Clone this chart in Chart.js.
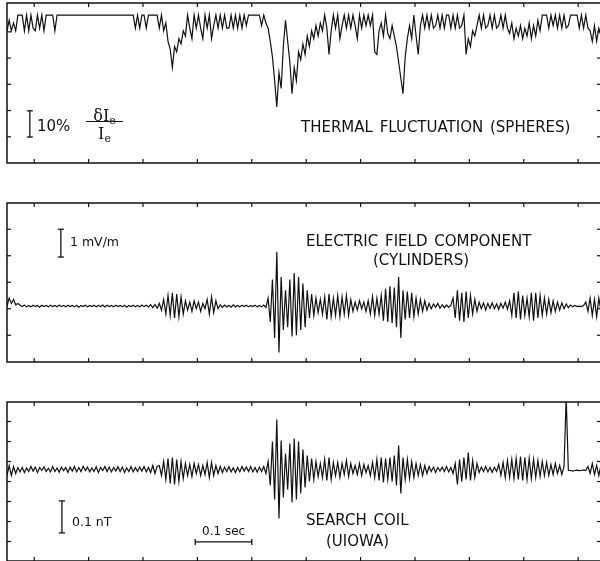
<!DOCTYPE html>
<html>
<head>
<meta charset="utf-8">
<script src="https://cdn.jsdelivr.net/npm/chart.js@4/dist/chart.umd.min.js"></script>
<style>
  html,body{margin:0;padding:0;background:#fff;overflow:hidden;}
  #wrap{position:relative;width:600px;height:561px;overflow:hidden;}
  canvas{position:absolute;left:0;}
  .t{position:absolute;font-family:"DejaVu Sans",sans-serif;color:#111;line-height:1;white-space:nowrap;}
  .big{font-size:15px;word-spacing:2px;}
  .sm{font-size:12.5px;}
  sub{font-size:11px;vertical-align:-3px;line-height:0;}
</style>
</head>
<body>
<div id="wrap">
  <canvas id="c1" width="604" height="180" style="top:0px"></canvas>
  <canvas id="c2" width="604" height="190" style="top:183px"></canvas>
  <canvas id="c3" width="604" height="182" style="top:383px"></canvas>

  <div class="t big" style="left:301px;top:120px">THERMAL FLUCTUATION (SPHERES)</div>
  <div class="t" style="left:37px;top:119px;font-size:15px">10%</div>
  <div class="t" style="left:86px;top:108px;width:37px;text-align:center;font-family:'DejaVu Serif',serif;font-size:16px">δI<sub>e</sub></div>
  <div style="position:absolute;left:86px;top:121px;width:37px;height:0;border-top:1.3px solid #111"></div>
  <div class="t" style="left:86px;top:126px;width:37px;text-align:center;font-family:'DejaVu Serif',serif;font-size:16px">I<sub>e</sub></div>

  <div class="t big" style="left:306px;top:234px">ELECTRIC FIELD COMPONENT</div>
  <div class="t big" style="left:373px;top:253px">(CYLINDERS)</div>
  <div class="t sm" style="left:70px;top:236px">1 mV/m</div>

  <div class="t big" style="left:306px;top:513px">SEARCH COIL</div>
  <div class="t big" style="left:326px;top:534px">(UIOWA)</div>
  <div class="t sm" style="left:72px;top:516px">0.1 nT</div>
  <div class="t" style="left:202px;top:525px;font-size:12px">0.1 sec</div>
</div>
<script>
// ---- time base (seconds) ----
const T_START = 0;
const T_STEP = 0.004;
const X_MIN = 0, X_MAX = 1.092;
const X_TICKS = [0.05,0.15,0.25,0.35,0.45,0.55,0.65,0.75,0.85,0.95,1.05];

// ---- Thermal fluctuation dI/I (%) ----
const THERMAL = [
 -6,-2,-6,-3,-6,0,0,0,-6,0,
 -6,0,-5,-6,0,-5,0,-6,0,0,
 0,0,-6,0,0,0,0,0,0,0,
 0,0,0,0,0,0,0,0,0,0,
 0,0,0,0,0,0,0,0,0,0,
 0,0,0,0,0,0,0,0,0,-5,
 0,-5,0,0,-5,0,0,0,0,0,
 -5,0,-6,-3,-10,-13,-20,-12,-14,-9,
 -11,-6,-8,0,-5,-9,0,-5,0,-5,
 -9,0,-5,0,-9,-4,0,-5,0,-5,
 0,-5,-5,0,-5,0,-5,0,-5,0,
 -4,0,0,0,0,0,0,-4,0,-3,
 -5,-10,-16,-25,-35,-22,-28,-12,-2,-10,
 -18,-30,-20,-25,-14,-17,-11,-15,-8,-12,
 -6,-9,-4,-8,-3,-6,0,-5,-15,-6,
 0,-5,0,-9,-4,0,-5,0,-5,0,
 -4,-9,0,-5,0,-4,0,-4,0,-14,
 -15,-6,-3,-8,0,-7,-9,-4,-8,-12,
 -18,-24,-30,-16,-9,-4,-9,0,-8,-15,
 -4,0,-5,0,-5,0,-5,-4,0,-5,
 0,-5,0,0,-5,0,-5,0,-5,-4,
 0,-15,-9,-12,-6,-8,-4,0,-5,0,
 -5,-4,0,-5,0,-5,-4,0,-5,0,
 -5,-7,-3,-9,-5,-8,-4,-9,-5,-8,
 -3,-9,-4,-8,-2,-6,0,0,0,-5,
 0,-4,0,-5,0,-5,0,-5,-4,0,
 0,0,0,-5,0,-5,0,-5,-6,-10,
 -4,-10,-5,-8
];
const THERMAL_Y_TICKS = [-46.4,-36.4,-26.4,-16.4,-6.4];

// ---- Electric field component (mV/m) ----
const E_FIELD = [
 0,0.3,0.1,0.25,0.05,0.1,0.03,-0.02,0.04,-0.03,
 0.02,-0.03,0.03,-0.02,0.02,-0.04,0.03,-0.02,0.02,-0.03,
 0.03,-0.02,0.02,-0.03,0.04,-0.02,0.02,-0.03,0.03,-0.02,
 0.02,-0.03,0.03,-0.04,0.02,-0.02,0.03,-0.03,0.02,-0.02,
 0.03,-0.03,0.02,-0.02,0.04,-0.03,0.03,-0.02,0.02,-0.03,
 0.03,-0.02,0.02,-0.03,0.03,-0.04,0.02,-0.02,0.03,-0.03,
 0.02,-0.03,0.04,-0.02,0.03,-0.03,0.05,-0.06,0.06,-0.08,
 0.1,-0.15,0.25,-0.3,0.4,-0.35,0.5,-0.45,0.45,-0.4,
 0.35,-0.3,0.2,-0.15,0.15,-0.2,0.2,-0.1,0.15,-0.2,
 0.1,-0.1,0.25,-0.3,0.35,-0.25,0.2,-0.1,0.05,-0.05,
 0.04,-0.03,0.03,-0.04,0.05,-0.03,0.02,-0.03,0.03,-0.02,
 0.03,-0.03,0.02,-0.02,0.03,-0.03,0.02,-0.03,0.04,-0.05,
 0.3,-0.6,1.0,-1.2,2.05,-1.75,1.1,-0.9,0.6,-0.8,
 1.0,-1.15,1.25,-1.1,1.1,-0.9,0.85,-0.8,0.6,-0.45,
 0.45,-0.35,0.3,-0.25,0.25,-0.3,0.35,-0.5,0.45,-0.4,
 0.3,-0.35,0.4,-0.4,0.35,-0.3,0.4,-0.35,0.25,-0.2,
 0.15,-0.15,0.2,-0.1,0.15,-0.2,0.2,-0.3,0.35,-0.35,
 0.3,-0.3,0.4,-0.55,0.65,-0.6,0.75,-0.65,0.7,-0.8,
 1.1,-1.2,0.6,-0.5,0.55,-0.45,0.5,-0.4,0.3,-0.3,
 0.25,-0.2,0.2,-0.15,0.1,-0.1,0.08,-0.05,0.1,-0.08,
 0.05,-0.06,0.04,-0.05,0.03,0.3,-0.45,0.6,-0.55,0.5,
 -0.6,0.55,-0.45,0.4,-0.3,0.25,-0.2,0.15,-0.1,0.12,
 -0.15,0.1,-0.08,0.12,-0.1,0.08,-0.12,0.1,-0.08,0.15,
 -0.12,0.2,-0.35,0.5,-0.45,0.55,-0.5,0.4,-0.35,0.3,
 -0.4,0.5,-0.55,0.5,-0.45,0.4,-0.35,0.3,-0.3,0.25,
 -0.25,0.2,-0.2,0.15,-0.15,0.12,-0.1,0.08,-0.06,0.04,
 -0.03,0.02,-0.02,0,-0.02,0.02,0.15,-0.2,0.3,-0.35,
 0.25,-0.4,0.3,-0.2
];
const E_FIELD_Y_TICKS = [-1.1,-0.1,0.9,1.9,2.9];

// ---- Search coil (arbitrary units, 0.1 nT ~ 1.6) ----
const SEARCH_COIL = [
 -0.3,0.2,-0.3,0.15,-0.2,0.1,-0.12,0.1,-0.15,0.08,
 -0.1,0.15,-0.08,0.12,-0.15,0.1,-0.05,0.14,-0.1,0.06,
 -0.12,0.15,-0.1,0.08,-0.14,0.12,-0.06,0.1,-0.15,0.12,
 -0.08,0.15,-0.12,0.1,-0.1,0.16,-0.05,0.12,-0.12,0.08,
 -0.1,0.14,-0.15,0.1,-0.06,0.15,-0.1,0.12,-0.12,0.1,
 -0.08,0.14,-0.1,0.12,-0.15,0.08,-0.1,0.15,-0.12,0.1,
 -0.1,0.12,-0.08,0.15,-0.12,0.1,-0.15,0.2,-0.2,0.15,
 0.2,-0.3,0.4,-0.5,0.55,-0.7,0.6,-0.75,0.5,-0.6,
 0.4,-0.45,0.3,-0.3,0.25,-0.35,0.3,-0.2,0.25,-0.3,
 0.2,-0.25,0.35,-0.4,0.35,-0.3,0.2,-0.2,0.15,-0.15,
 0.12,-0.1,0.15,-0.12,0.08,-0.15,0.1,-0.12,0.15,-0.08,
 0.12,-0.1,0.15,-0.12,0.1,-0.14,0.12,-0.1,0.15,-0.2,
 0.4,-0.8,1.4,-1.5,2.5,-2.45,1.45,-1.4,0.8,-1.0,
 1.3,-1.65,1.55,-1.5,1.4,-1.2,1.0,-0.9,0.7,-0.6,
 0.55,-0.5,0.4,-0.35,0.3,-0.4,0.5,-0.55,0.6,-0.5,
 0.35,-0.3,0.35,-0.4,0.3,-0.25,0.45,-0.35,0.3,-0.2,
 0.2,-0.25,0.3,-0.3,0.25,-0.15,0.2,-0.3,0.35,-0.4,
 0.5,-0.55,0.6,-0.65,0.55,-0.5,0.6,-0.6,0.7,-0.8,
 1.2,-1.2,0.6,-0.5,0.5,-0.45,0.4,-0.4,0.3,-0.3,
 0.25,-0.3,0.2,-0.2,0.15,-0.1,0.12,-0.15,0.1,-0.08,
 0.12,-0.1,0.15,-0.12,0.1,-0.2,0.3,-0.75,0.5,-0.6,
 0.6,-0.5,0.85,-0.55,0.45,-0.4,0.3,-0.15,0.12,-0.1,
 0.15,-0.12,0.1,-0.15,0.12,-0.1,0.25,-0.3,0.35,-0.4,
 0.45,-0.4,0.5,-0.45,0.55,-0.5,0.65,-0.55,0.6,-0.5,
 0.55,-0.45,0.5,-0.4,0.45,-0.35,0.4,-0.3,0.35,-0.3,
 0.25,-0.25,0.3,-0.2,0.2,-0.25,0.15,3.6,-0.05,-0.05,
 -0.08,-0.05,-0.03,-0.06,-0.05,-0.02,-0.05,0.15,-0.2,0.3,
 -0.25,0.2,-0.3,0.25
];
const SEARCH_COIL_Y_TICKS = [-3.6,-2.6,-1.6,-0.6,0.4,1.4,2.4];

// ---- scale bars (value units) ----
const BAR_THERMAL = {t:0.042, y1:-36.5, y2:-46.5};   // 10 %
const BAR_EFIELD  = {t:0.099, y1:1.85, y2:2.9};      // 1 mV/m
const BAR_COIL    = {t:0.101, y1:-1.57, y2:-3.17};   // 0.1 nT
const BAR_TIME    = {t1:0.346, t2:0.450, y:-3.62};   // 0.1 sec

const INK = '#111';

const framePlugin = {
  id: 'frame',
  afterDatasetsDraw(chart, args, o) {
    const {ctx, chartArea:{left,right,top,bottom}} = chart;
    const x = chart.scales.x, y = chart.scales.y;
    const ln = (a,b,c,d)=>{ctx.beginPath();ctx.moveTo(a,b);ctx.lineTo(c,d);ctx.stroke();};
    ctx.save();
    ctx.strokeStyle = INK;
    ctx.lineWidth = 1.5;
    ctx.strokeRect(left, top, right-left, bottom-top);
    ctx.lineWidth = 1.2;
    X_TICKS.forEach(v=>{const p=x.getPixelForValue(v); ln(p,top,p,top+4); ln(p,bottom,p,bottom-4);});
    o.yTicks.forEach(v=>{const p=y.getPixelForValue(v); ln(left,p,left+4,p); ln(right,p,right-4,p);});
    ctx.lineWidth = 1.3;
    (o.vbars||[]).forEach(b=>{
      const px=x.getPixelForValue(b.t), a=y.getPixelForValue(b.y1), c=y.getPixelForValue(b.y2);
      ln(px,a,px,c); ln(px-3,a,px+3,a); ln(px-3,c,px+3,c);
    });
    (o.hbars||[]).forEach(b=>{
      const a=x.getPixelForValue(b.t1), c=x.getPixelForValue(b.t2), py=y.getPixelForValue(b.y);
      ln(a,py,c,py); ln(a,py-3,a,py+3); ln(c,py-3,c,py+3);
    });
    ctx.restore();
  }
};

function makeChart(id, values, yMin, yMax, pad, frameOpts) {
  const pts = values.map((v,i)=>({x: T_START + i*T_STEP, y: v}));
  return new Chart(document.getElementById(id), {
    type: 'line',
    data: {datasets: [{data: pts, borderColor: INK, borderWidth: 1.2, pointRadius: 0, tension: 0, fill: false}]},
    options: {
      responsive: false, animation: false, devicePixelRatio: 1,
      parsing: true, normalized: true,
      layout: {padding: pad},
      plugins: {legend: {display: false}, tooltip: {enabled: false}, frame: frameOpts},
      scales: {
        x: {type: 'linear', min: X_MIN, max: X_MAX, display: false},
        y: {type: 'linear', min: yMin, max: yMax, display: false}
      }
    },
    plugins: [framePlugin]
  });
}

makeChart('c1', THERMAL, -56.4, 4.6, {left:7, right:3, top:3, bottom:17},
  {yTicks: THERMAL_Y_TICKS, vbars: [BAR_THERMAL]});
makeChart('c2', E_FIELD, -2.11, 3.89, {left:7, right:3, top:20, bottom:11},
  {yTicks: E_FIELD_Y_TICKS, vbars: [BAR_EFIELD]});
makeChart('c3', SEARCH_COIL, -4.575, 3.375, {left:7, right:3, top:19, bottom:4},
  {yTicks: SEARCH_COIL_Y_TICKS, vbars: [BAR_COIL], hbars: [BAR_TIME]});
</script>
</body>
</html>
